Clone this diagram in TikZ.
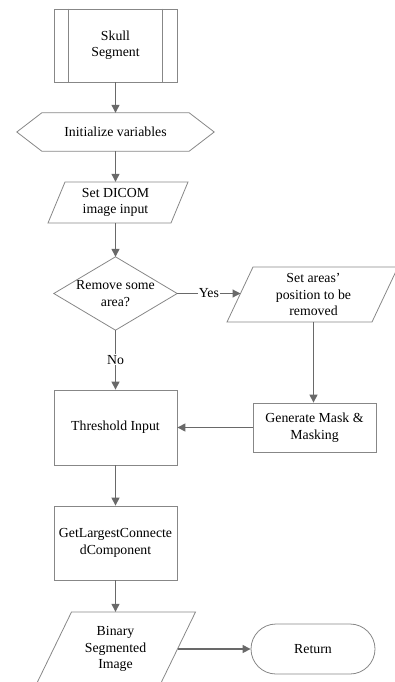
\documentclass[tikz,border=0pt]{standalone}
\usepackage{fontspec}
\setmainfont{Liberation Serif}
\usetikzlibrary{arrows.meta,calc}
\definecolor{outl}{RGB}{135,135,135}
\definecolor{arrc}{RGB}{105,105,105}
\newcommand\mainfnt{\fontsize{13.8}{16.4}\selectfont}
\begin{document}
\begin{tikzpicture}[x=1pt,y=-1pt,
  shapeline/.style={draw=outl, line width=0.8pt},
  boxnode/.style={shapeline, rectangle, inner sep=0pt, align=center, font=\mainfnt},
  txt/.style={inner sep=0pt, align=center, font=\mainfnt},
  arr/.style={draw=arrc, line width=1.2pt, -{Triangle[length=8pt,width=8pt]}},
  lbl/.style={fill=white, inner sep=1pt, font=\mainfnt}]
\useasboundingbox (0,0) rectangle (395,682);
\begin{scope}
\clip (0,0) rectangle (395,682);
% Skull Segment (predefined process)
\node[boxnode, minimum width=123pt, minimum height=73pt] (skull) at (115.5,45.5) {Skull\\Segment};
\draw[shapeline] ($(skull.north west)+(15,0)$) -- ($(skull.south west)+(15,0)$);
\draw[shapeline] ($(skull.north east)+(-15,0)$) -- ($(skull.south east)+(-15,0)$);
% Initialize (hexagon)
\node[txt, minimum width=197pt, minimum height=38pt] (init) at (115.5,132) {Initialize variables};
\draw[shapeline] (init.west) -- ($(init.north west)+(25,0)$) -- ($(init.north east)+(-25,0)$) -- (init.east) -- ($(init.south east)+(-25,0)$) -- ($(init.south west)+(25,0)$) -- cycle;
% Set DICOM (parallelogram)
\node[txt, minimum width=123pt, minimum height=41pt] (dicom) at (115.5,202.5) {Set DICOM\\image input};
\draw[shapeline] (65,182) -- (188,182) -- (171,223) -- (48,223) -- cycle;
% Decision
\node[txt, minimum width=123pt, minimum height=73pt] (dec) at (115.5,293.5) {Remove some\\area?};
\draw[shapeline] (dec.north) -- (dec.east) -- (dec.south) -- (dec.west) -- cycle;
% Set areas (parallelogram)
\node[txt, minimum width=145pt, minimum height=55pt] (setarea) at (313.5,294.5) {Set areas’\\position to be\\removed};
\draw[shapeline] (253,267) -- (398,267) -- (372,322) -- (227,322) -- cycle;
\coordinate (saw) at (240.5,293.5);
% Generate Mask
\node[boxnode, minimum width=123pt, minimum height=49pt] (gen) at (314.5,427.5) {Generate Mask \&\\Masking};
% Threshold
\node[boxnode, minimum width=123pt, minimum height=75pt] (thresh) at (115.5,427.5) {Threshold Input};
% GetLargest
\node[boxnode, minimum width=123pt, minimum height=74pt] (glcc) at (115.5,543) {GetLargestConnecte\\dComponent};
% Binary (parallelogram)
\node[txt, minimum width=124pt, minimum height=74pt] (binary) at (115.5,649) {Binary\\Segmented\\Image};
\draw[shapeline] (71.5,612) -- (195.5,612) -- (159.5,686) -- (35.5,686) -- cycle;
\coordinate (bine) at (177.5,649);
% Return (terminal)
\node[boxnode, rounded corners=25pt, minimum width=124pt, minimum height=50pt] (ret) at (313,649) {Return};
% connectors
\draw[arr] (skull.south) -- (init.north);
\draw[arr] (init.south) -- (dicom.north);
\draw[arr] (dicom.south) -- (dec.north);
\draw[arr] (dec.east) -- node[lbl] {Yes} (saw);
\draw[arr] (setarea.south) -- (setarea.south |- gen.north);
\draw[arr] (gen.west) -- (thresh.east);
\draw[arr] (dec.south) -- node[lbl] {No} (thresh.north);
\draw[arr] (thresh.south) -- (glcc.north);
\draw[arr] (glcc.south) -- (binary.north);
\draw[arr] (bine) -- (ret.west);
\end{scope}
\end{tikzpicture}
\end{document}
